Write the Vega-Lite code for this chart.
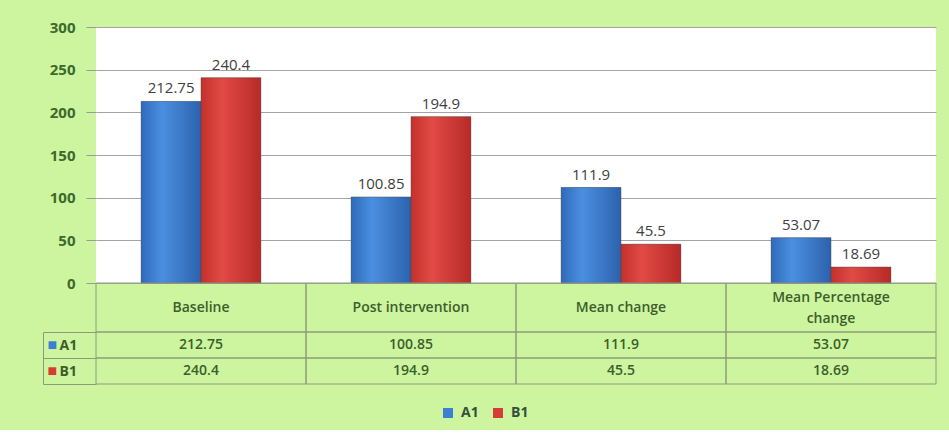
{
  "$schema": "https://vega.github.io/schema/vega-lite/v6.json",
  "background": "#cdf5a0",
  "padding": {"left": 42, "top": 20, "right": 14, "bottom": 10},
  "datasets": {
    "d": [
      {"cat": "Baseline", "series": "A1", "value": 212.75},
      {"cat": "Baseline", "series": "B1", "value": 240.4},
      {"cat": "Post intervention", "series": "A1", "value": 100.85},
      {"cat": "Post intervention", "series": "B1", "value": 194.9},
      {"cat": "Mean change", "series": "A1", "value": 111.9},
      {"cat": "Mean change", "series": "B1", "value": 45.5},
      {"cat": "Mean Percentage\nchange", "series": "A1", "value": 53.07},
      {"cat": "Mean Percentage\nchange", "series": "B1", "value": 18.69}
    ]
  },
  "spacing": 0,
  "bounds": "flush",
  "resolve": {"scale": {"x": "independent", "y": "independent", "color": "shared"}, "legend": {"color": "shared"}},
  "vconcat": [
    {
      "width": 840,
      "height": 256,
      "view": {"fill": "white", "stroke": null},
      "data": {"name": "d"},
      "encoding": {
        "x": {"field": "cat", "type": "nominal", "sort": null, "scale": {"paddingInner": 0.43, "paddingOuter": 0.215}, "axis": null},
        "xOffset": {"field": "series", "type": "nominal", "sort": ["A1", "B1"]},
        "y": {"field": "value", "type": "quantitative", "scale": {"domain": [0, 300], "nice": false},
          "axis": {"values": [0, 50, 100, 150, 200, 250, 300], "title": null, "domain": false, "tickSize": 10, "tickColor": "#9a9a9a", "gridColor": "#a4a4a4", "labelColor": "#3b6a2a", "labelFontWeight": "bold", "labelFontSize": 15, "labelPadding": 11, "labelFont": "Open Sans"}}
      },
      "layer": [
        {
          "mark": {"type": "bar"},
          "encoding": {
            "color": {"field": "series", "type": "nominal", "scale": {"domain": ["A1", "B1"], "range": ["#3d7fd0", "#d63b36"]},
              "legend": {"orient": "none", "legendX": 345, "legendY": 379, "title": null, "direction": "horizontal", "symbolType": "square", "symbolSize": 100, "symbolStrokeWidth": 0, "labelColor": "#34503a", "labelFontSize": 14, "labelFontWeight": "bold", "labelFont": "Open Sans", "columnPadding": 12, "labelOffset": 6}}
          }
        },
        {
          "mark": {"type": "bar", "stroke": "#4a4a4a", "strokeOpacity": 0.45, "strokeWidth": 1},
          "encoding": {
            "color": {
              "condition": {"test": "datum.series === 'A1'", "value": {"gradient": "linear", "x1": 0, "x2": 1, "y1": 0, "y2": 0, "stops": [{"offset": 0, "color": "#2f6abb"}, {"offset": 0.35, "color": "#4b8fe0"}, {"offset": 1, "color": "#2c62ad"}]}},
              "value": {"gradient": "linear", "x1": 0, "x2": 1, "y1": 0, "y2": 0, "stops": [{"offset": 0, "color": "#c4302c"}, {"offset": 0.35, "color": "#e24a45"}, {"offset": 1, "color": "#b72a27"}]}
            }
          }
        },
        {
          "mark": {"type": "text", "dy": -13, "fontSize": 15, "color": "#404040", "font": "Open Sans"},
          "encoding": {"text": {"field": "value", "type": "nominal"}}
        }
      ]
    },
    {
      "width": 840,
      "height": 49,
      "data": {"name": "d"},
      "transform": [{"filter": "datum.series === 'A1'"}],
      "encoding": {
        "x": {"field": "cat", "type": "nominal", "sort": null, "scale": {"padding": 0}, "axis": null}
      },
      "layer": [
        {"mark": {"type": "rect", "fill": "transparent", "stroke": "#8c9c78", "strokeWidth": 1}},
        {"transform": [{"filter": "indexof(datum.cat, '\\n') < 0"}],
          "mark": {"type": "text", "fontSize": 14, "fontWeight": 600, "color": "#3c5e2a", "font": "Open Sans"},
          "encoding": {"text": {"field": "cat", "type": "nominal"}}},
        {"transform": [{"filter": "indexof(datum.cat, '\\n') >= 0"}],
          "mark": {"type": "text", "lineBreak": "\n", "lineHeight": 21, "dy": -10, "fontSize": 14, "fontWeight": 600, "color": "#3c5e2a", "font": "Open Sans"},
          "encoding": {"text": {"field": "cat", "type": "nominal"}}}
      ]
    },
    {
      "width": 840,
      "height": 52,
      "data": {"name": "d"},
      "encoding": {
        "x": {"field": "cat", "type": "nominal", "sort": null, "scale": {"padding": 0}, "axis": null}
      },
      "layer": [
        {
          "mark": {"type": "rect", "fill": "transparent", "stroke": "#8c9c78", "strokeWidth": 1},
          "encoding": {
            "y": {"field": "series", "type": "nominal", "scale": {"domain": ["A1", "B1"], "padding": 0},
              "axis": {"orient": "left", "title": null, "domain": false, "ticks": true, "tickBand": "extent", "tickSize": 53, "tickColor": "#8c9c78", "labelAlign": "left", "labelPadding": -16, "labelColor": "#3c5e2a", "labelFontSize": 14, "labelFontWeight": "bold", "labelFont": "Open Sans"}}
          }
        },
        {
          "mark": {"type": "text", "fontSize": 14, "fontWeight": 600, "color": "#3c5e2a", "font": "Open Sans"},
          "encoding": {
            "y": {"field": "series", "type": "nominal",
              "axis": {"orient": "left", "title": null, "offset": 53, "domain": true, "domainColor": "#8c9c78", "ticks": false, "labelAlign": "left", "labelPadding": -4, "labelExpr": "'■'", "labelFontSize": 16, "labelColor": {"condition": {"test": "datum.value === 'A1'", "value": "#3d7fd0"}, "value": "#d63b36"}}},
            "text": {"field": "value", "type": "nominal"}
          }
        }
      ],
      "resolve": {"axis": {"y": "independent"}}
    }
  ],
  "config": {"view": {"stroke": null}, "font": "Open Sans"}
}
